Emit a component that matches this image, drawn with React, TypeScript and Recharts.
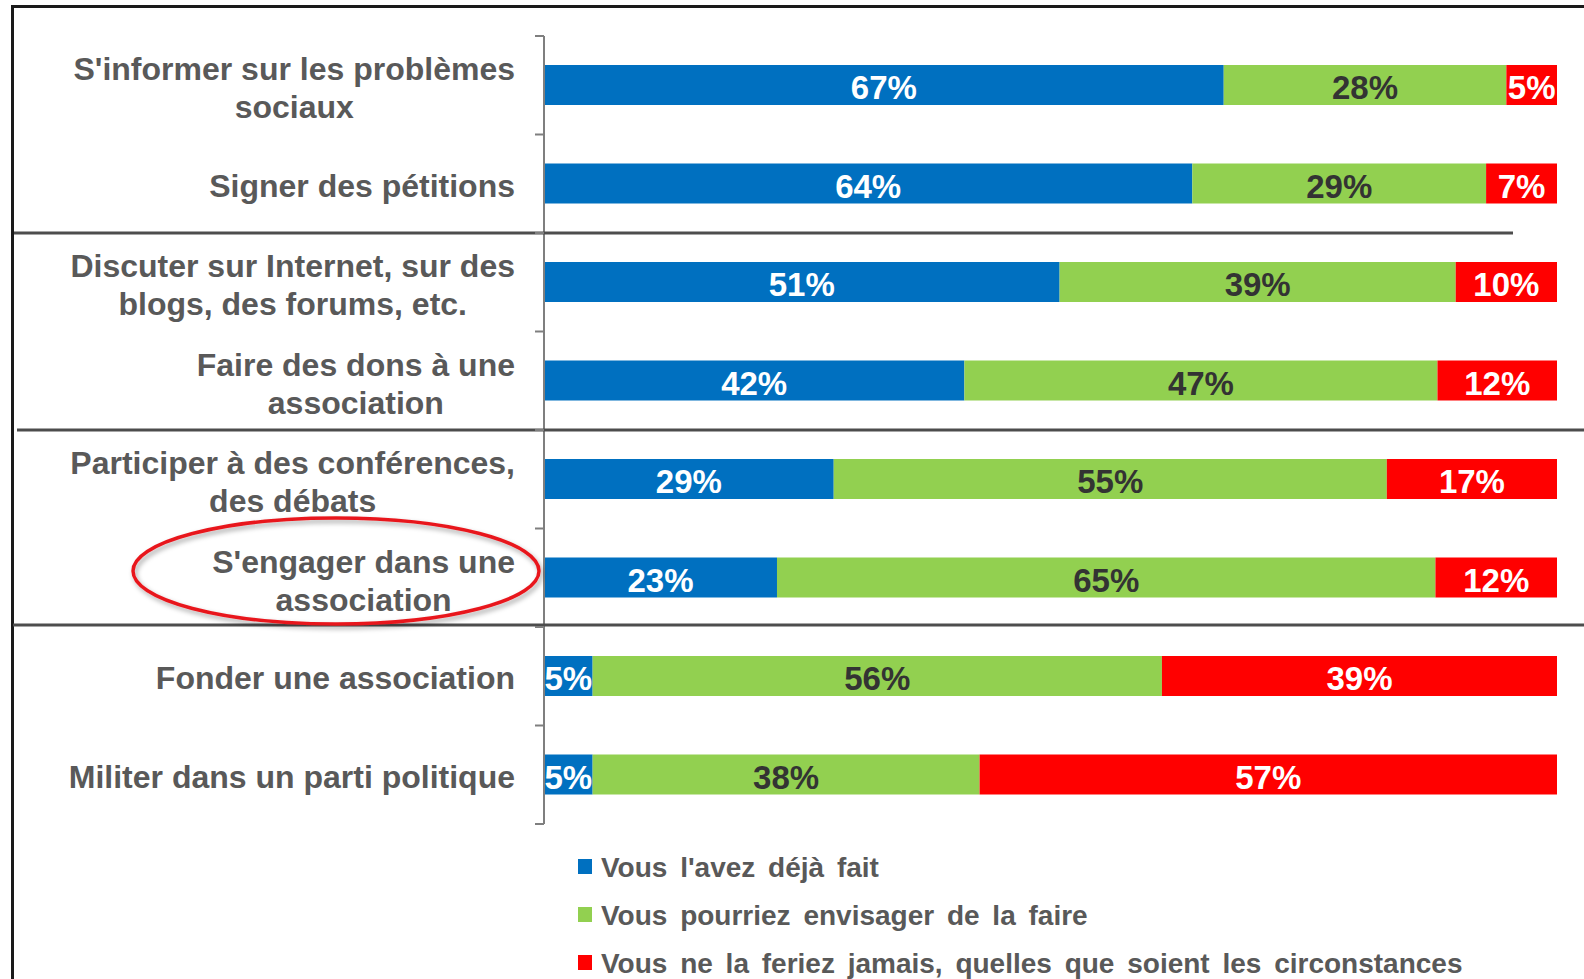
import React from 'react';
import { BarChart, Bar, XAxis, YAxis, LabelList, Legend } from 'recharts';

// Catégories (une ligne par action, \n = retour à la ligne du libellé)
const categories = [
  "S'informer sur les problèmes\nsociaux",
  'Signer des pétitions',
  'Discuter sur Internet, sur des\nblogs, des forums, etc.',
  'Faire des dons à une\nassociation',
  'Participer à des conférences,\ndes débats',
  "S'engager dans une\nassociation",
  'Fonder une association',
  'Militer dans un parti politique',
];

// Valeurs (%)
const dejaFait = [67.1, 64.0, 50.9, 41.5, 28.6, 23.0, 4.8, 4.8];
const envisager = [27.9, 29.0, 39.1, 46.7, 54.6, 65.0, 56.2, 38.2];
const jamais = [5.0, 7.0, 10.0, 11.8, 16.8, 12.0, 39.0, 57.0];

const seriesNames = [
  "Vous l'avez déjà fait",
  'Vous pourriez envisager de la faire',
  'Vous ne la feriez jamais, quelles que soient les circonstances',
];

const COLORS = ['#0070C0', '#92D050', '#FF0000'];
const LABEL_COLORS = ['#FFFFFF', '#333333', '#FFFFFF'];
const FONT = "'Liberation Sans', Arial, sans-serif";
const TEXT_GREY = '#595959';

const W = 1584;
const H = 979;
const MARGIN = { top: 36, right: 27, bottom: 155, left: 24 };
const AXIS_W = 520;
const PLOT_LEFT = MARGIN.left + AXIS_W;
const BAND = (H - MARGIN.top - MARGIN.bottom) / categories.length;
const LABEL_RIGHT = 515;
const CAT_FONT_SIZE = 32;

// traits de séparation entre les groupes (sous la ligne d'index donné): x1, x2, décalage y
const separators: Record<number, [number, number, number]> = {
  1: [14, 1513, 0],
  3: [17, W, 0],
  5: [13, W, -2],
};

const data = categories.map((name, i) => ({
  name,
  deja: dejaFait[i],
  envisager: envisager[i],
  jamais: jamais[i],
}));

let canvasCtx: CanvasRenderingContext2D | null = null;
const measure = (s: string) => {
  if (!canvasCtx) canvasCtx = document.createElement('canvas').getContext('2d');
  if (!canvasCtx) return s.length * CAT_FONT_SIZE * 0.55;
  canvasCtx.font = `bold ${CAT_FONT_SIZE}px ${FONT}`;
  return canvasCtx.measureText(s).width;
};

const CategoryTick = (props: any) => {
  const { y, payload, index } = props;
  const lines: string[] = String(payload.value).split('\n');
  const maxW = Math.max(...lines.map(measure));
  const cx = LABEL_RIGHT - maxW / 2;
  const top = y - BAND / 2;
  const bottom = y + BAND / 2;
  const baselines = lines.length === 1 ? [y + 13] : [y - 5, y + 33];
  const sep = separators[index];
  return (
    <g>
      <line x1={PLOT_LEFT - 9} x2={PLOT_LEFT} y1={top} y2={top} stroke="#7f7f7f" strokeWidth={2} />
      {index === categories.length - 1 && (
        <line x1={PLOT_LEFT - 9} x2={PLOT_LEFT} y1={bottom} y2={bottom} stroke="#7f7f7f" strokeWidth={2} />
      )}
      {sep && (
        <line x1={sep[0]} x2={sep[1]} y1={bottom + sep[2]} y2={bottom + sep[2]} stroke="#4d4d4d" strokeWidth={3} />
      )}
      {lines.map((l, i) => (
        <text
          key={i}
          x={cx}
          y={baselines[i]}
          textAnchor="middle"
          fill={TEXT_GREY}
          fontFamily={FONT}
          fontWeight="bold"
          fontSize={CAT_FONT_SIZE}
        >
          {l}
        </text>
      ))}
    </g>
  );
};

const renderLegend = (props: any) => {
  const payload = [...(props.payload || [])].sort(
    (a: any, b: any) => seriesNames.indexOf(a.value) - seriesNames.indexOf(b.value),
  );
  return (
    <div>
      {payload.map((p: any) => (
        <div key={p.value} style={{ display: 'flex', alignItems: 'flex-start', height: 48 }}>
          <span
            style={{
              display: 'inline-block',
              flex: 'none',
              width: 14,
              height: 15,
              background: p.color,
              marginTop: 8,
              marginRight: 9,
            }}
          />
          <span
            style={{
              fontFamily: FONT,
              fontWeight: 'bold',
              fontSize: 28,
              lineHeight: '34px',
              color: TEXT_GREY,
              wordSpacing: 5,
              whiteSpace: 'nowrap',
            }}
          >
            {p.value}
          </span>
        </div>
      ))}
    </div>
  );
};

const makeLabel = (color: string) => (props: any) => {
  const { x, y, width, height, value } = props;
  return (
    <text
      x={x + width / 2}
      y={y + height / 2 + 14}
      textAnchor="middle"
      fill={color}
      fontFamily={FONT}
      fontWeight="bold"
      fontSize={33}
    >
      {`${Math.round(Number(value))}%`}
    </text>
  );
};

export default function App() {
  const keys = ['deja', 'envisager', 'jamais'];
  return (
    <div style={{ position: 'absolute', left: 0, top: 0, width: W, height: H, background: '#fff', overflow: 'hidden' }}>
      <div
        style={{
          position: 'absolute',
          left: 11,
          top: 5,
          width: W,
          height: H,
          borderTop: '3px solid #1a1a1a',
          borderLeft: '3px solid #1a1a1a',
        }}
      />
      <BarChart width={W} height={H} data={data} layout="vertical" margin={MARGIN}>
        <XAxis type="number" domain={[0, 100]} hide />
        <YAxis
          type="category"
          dataKey="name"
          width={AXIS_W}
          interval={0}
          tickLine={false}
          axisLine={{ stroke: '#7f7f7f', strokeWidth: 2 }}
          tick={(p: any) => <CategoryTick {...p} />}
        />
        <Legend
          layout="vertical"
          align="center"
          verticalAlign="middle"
          content={renderLegend}
          wrapperStyle={{ left: 578, top: 851, width: 'auto' }}
        />
        {keys.map((k, i) => (
          <Bar
            key={k}
            dataKey={k}
            name={seriesNames[i]}
            stackId="a"
            fill={COLORS[i]}
            barSize={40}
            isAnimationActive={false}
          >
            <LabelList dataKey={k} content={makeLabel(LABEL_COLORS[i])} />
          </Bar>
        ))}
      </BarChart>
      <svg width={W} height={H} style={{ position: 'absolute', left: 0, top: 0, pointerEvents: 'none' }}>
        <defs>
          <filter id="shadow" x="-10%" y="-30%" width="120%" height="160%">
            <feDropShadow dx={2} dy={3} stdDeviation={2.5} floodColor="#000" floodOpacity={0.35} />
          </filter>
        </defs>
        <ellipse cx={336} cy={571} rx={203} ry={53} fill="none" stroke="#E8191E" strokeWidth={3.5} filter="url(#shadow)" />
      </svg>
    </div>
  );
}
